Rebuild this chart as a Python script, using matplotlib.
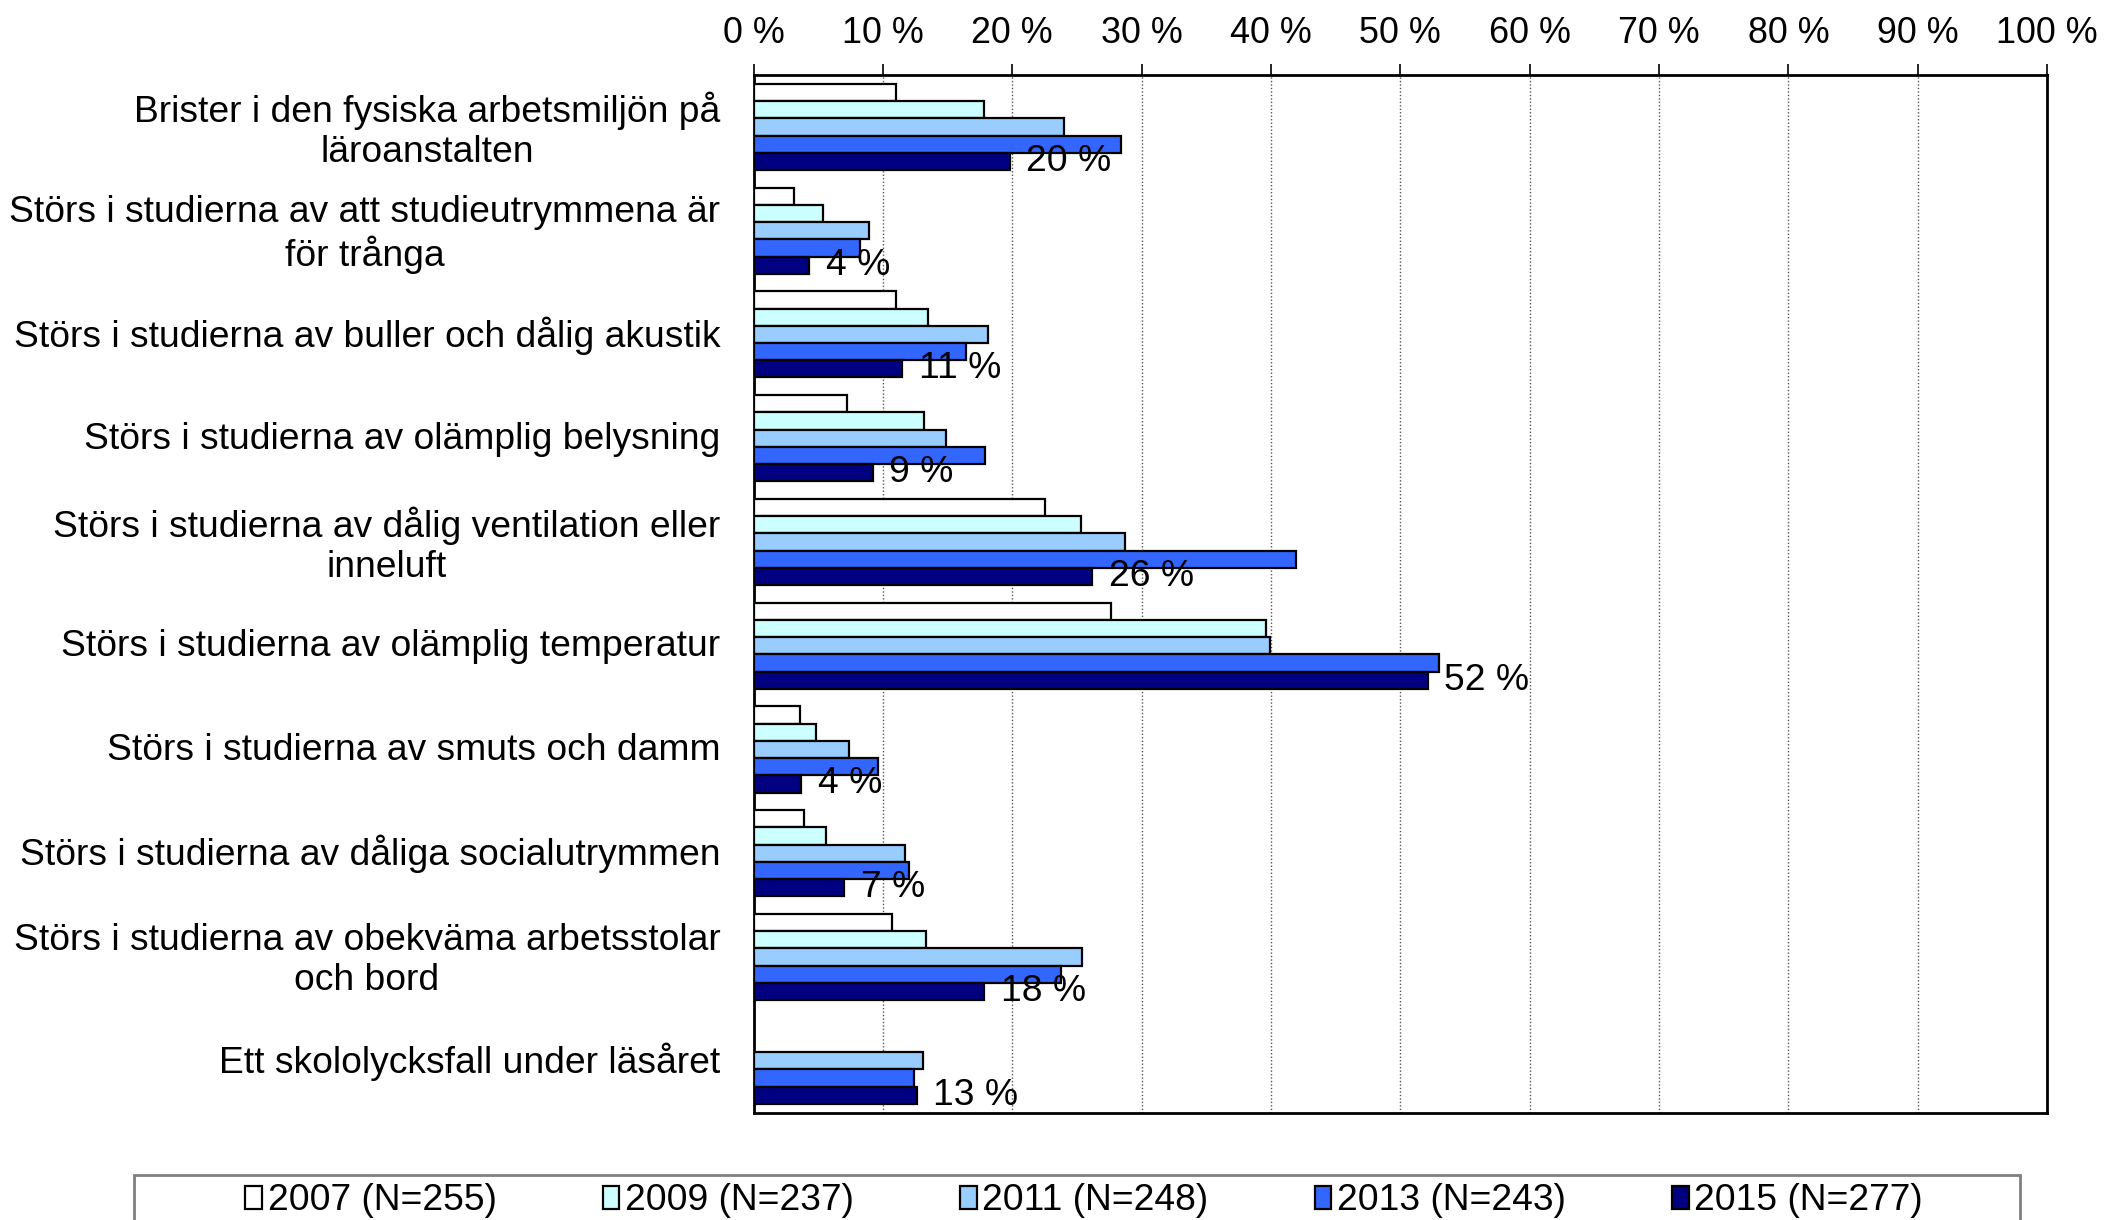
import matplotlib
matplotlib.use("Agg")
import matplotlib.pyplot as plt
import matplotlib.patches as mpatches
import numpy as np

plt.rcParams['font.family'] = ['Liberation Sans', 'DejaVu Sans']

categories = [
    "Brister i den fysiska arbetsmiljön på\nläroanstalten",
    "Störs i studierna av att studieutrymmena är\nför trånga",
    "Störs i studierna av buller och dålig akustik",
    "Störs i studierna av olämplig belysning",
    "Störs i studierna av dålig ventilation eller\ninneluft",
    "Störs i studierna av olämplig temperatur",
    "Störs i studierna av smuts och damm",
    "Störs i studierna av dåliga socialutrymmen",
    "Störs i studierna av obekväma arbetsstolar\noch bord",
    "Ett skololycksfall under läsåret",
]
series_names = ["2007 (N=255)", "2009 (N=237)", "2011 (N=248)", "2013 (N=243)", "2015 (N=277)"]
v2007 = [11.0, 3.1, 11.0, 7.2, 22.5, 27.6, 3.6, 3.9, 10.7, np.nan]
v2009 = [17.8, 5.4, 13.5, 13.2, 25.3, 39.6, 4.8, 5.6, 13.3, np.nan]
v2011 = [24.0, 8.9, 18.1, 14.9, 28.7, 39.9, 7.4, 11.7, 25.4, 13.1]
v2013 = [28.4, 8.2, 16.4, 17.9, 41.9, 53.0, 9.6, 12.0, 23.8, 12.4]
v2015 = [19.8, 4.3, 11.5, 9.2, 26.2, 52.1, 3.7, 7.0, 17.8, 12.6]
labels2015 = ["20 %", "4 %", "11 %", "9 %", "26 %", "52 %", "4 %", "7 %", "18 %", "13 %"]
colors = ["#FFFFFF", "#CCFFFF", "#99CCFF", "#3366FF", "#000080"]
xticks = list(range(0, 101, 10))
xticklabels = [f"{t} %" for t in xticks]

FS = 26.8
FS_TICK = 25.8
fig = plt.figure(figsize=(21.05, 12.2), dpi=100)
ax = fig.add_axes([0.358, 0.088, 0.9725 - 0.358, 0.9385 - 0.088])

n = len(categories)
y = np.arange(n)
h = 0.166
all_vals = [v2007, v2009, v2011, v2013, v2015]
handles = []
for i, (vals, c, name) in enumerate(zip(all_vals, colors, series_names)):
    offs = (i - 2) * h
    vals_arr = np.array(vals, dtype=float)
    mask = ~np.isnan(vals_arr)
    b = ax.barh(y[mask] + offs, vals_arr[mask], height=h, color=c,
                edgecolor="black", linewidth=1.6, zorder=3, label=name)
    handles.append(b)

for yi, v, lab in zip(y, v2015, labels2015):
    ax.annotate(lab, xy=(v, yi + 2 * h), xytext=(12, 0), textcoords="offset points",
                ha="left", va="center", fontsize=FS, zorder=4)

ax.set_xlim(0, 100)
ax.set_ylim(n - 0.5, -0.5)
ax.set_yticks(y - 0.03)
ax.set_yticklabels(categories, fontsize=FS, multialignment="center")
ax.tick_params(axis="y", length=0, pad=24)
ax.xaxis.tick_top()
ax.set_xticks(xticks)
ax.set_xticklabels(xticklabels, fontsize=FS_TICK)
ax.tick_params(axis="x", direction="out", length=8, width=1.2, pad=9, top=True, bottom=False)
ax.grid(axis="x", color="#555555", linestyle=(0, (1, 1.5)), linewidth=1.0, zorder=0)
for s in ax.spines.values():
    s.set_linewidth(2.0)
    s.set_color("black")

# Legend frame (partially cut off at bottom of figure)
frame = mpatches.Rectangle((134 / 2105, -0.05), (2020 - 134) / 2105, 0.05 + (1 - 1175 / 1220),
                           transform=fig.transFigure, fill=False, edgecolor="#808080",
                           linewidth=2.0, clip_on=False)
fig.add_artist(frame)
leg = fig.legend(handles=handles, labels=series_names, loc="center", ncol=5,
                 bbox_to_anchor=(0.515, 1 - 1201 / 1220), frameon=False, fontsize=FS,
                 handlelength=0.45, handleheight=0.6, handletextpad=0.15, columnspacing=2.85,
                 borderaxespad=0, borderpad=0)

fig.savefig("out.png", dpi=100)
